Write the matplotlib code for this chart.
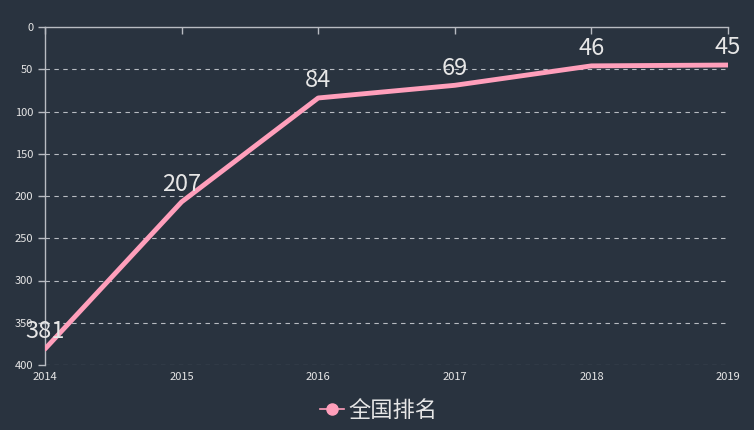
import matplotlib
matplotlib.use("Agg")
import matplotlib.pyplot as plt
from matplotlib.lines import Line2D

plt.rcParams['font.family'] = ['Noto Sans CJK SC', 'DejaVu Sans']

years = [2014, 2015, 2016, 2017, 2018, 2019]
ranks = [381, 207, 84, 69, 46, 45]
series_name = '全国排名'
y_ticks = [0, 50, 100, 150, 200, 250, 300, 350, 400]

BG = '#29333f'
PINK = '#ff9fbb'
AXIS = '#b8bcc2'
TEXT = '#e6e6e6'

fig = plt.figure(figsize=(7.54, 4.30), dpi=100, facecolor=BG)
ax = fig.add_axes([45 / 754, 1 - 365 / 430, (728 - 45) / 754, (365 - 27) / 430])
ax.set_facecolor(BG)

ax.plot(years, ranks, color=PINK, lw=3.5, solid_capstyle='round', zorder=3)
for x, y in zip(years, ranks):
    ax.annotate(str(y), (x, y), xytext=(0, 4), textcoords='offset points',
                ha='center', va='bottom', fontsize=17, color=TEXT, zorder=4)

ax.set_xlim(years[0], years[-1])
ax.set_ylim(400, 0)
ax.set_xticks(years)
ax.set_yticks(y_ticks)

for t in y_ticks[1:]:
    ax.axhline(t, color=AXIS, lw=0.8, ls=(0, (4, 4)), zorder=1)

for s in ['right', 'bottom']:
    ax.spines[s].set_visible(False)
for s in ['left', 'top']:
    ax.spines[s].set_color(AXIS)
    ax.spines[s].set_linewidth(1)

ax.tick_params(axis='y', colors=AXIS, labelcolor=TEXT, labelsize=8, length=5, width=1)
ax.tick_params(axis='x', bottom=False, top=True, direction='in', colors=AXIS,
               labelcolor=TEXT, labelsize=8, length=5, width=1, pad=5)

handle = Line2D([], [], color=PINK, lw=1.2, marker='o', markersize=8)
fig.legend([handle], [series_name], loc='center', bbox_to_anchor=(0.502, 1 - 410 / 430),
           frameon=False, fontsize=16, labelcolor=TEXT, handlelength=1.1,
           handletextpad=0.2)

fig.savefig('out.png', dpi=100, facecolor=BG)
